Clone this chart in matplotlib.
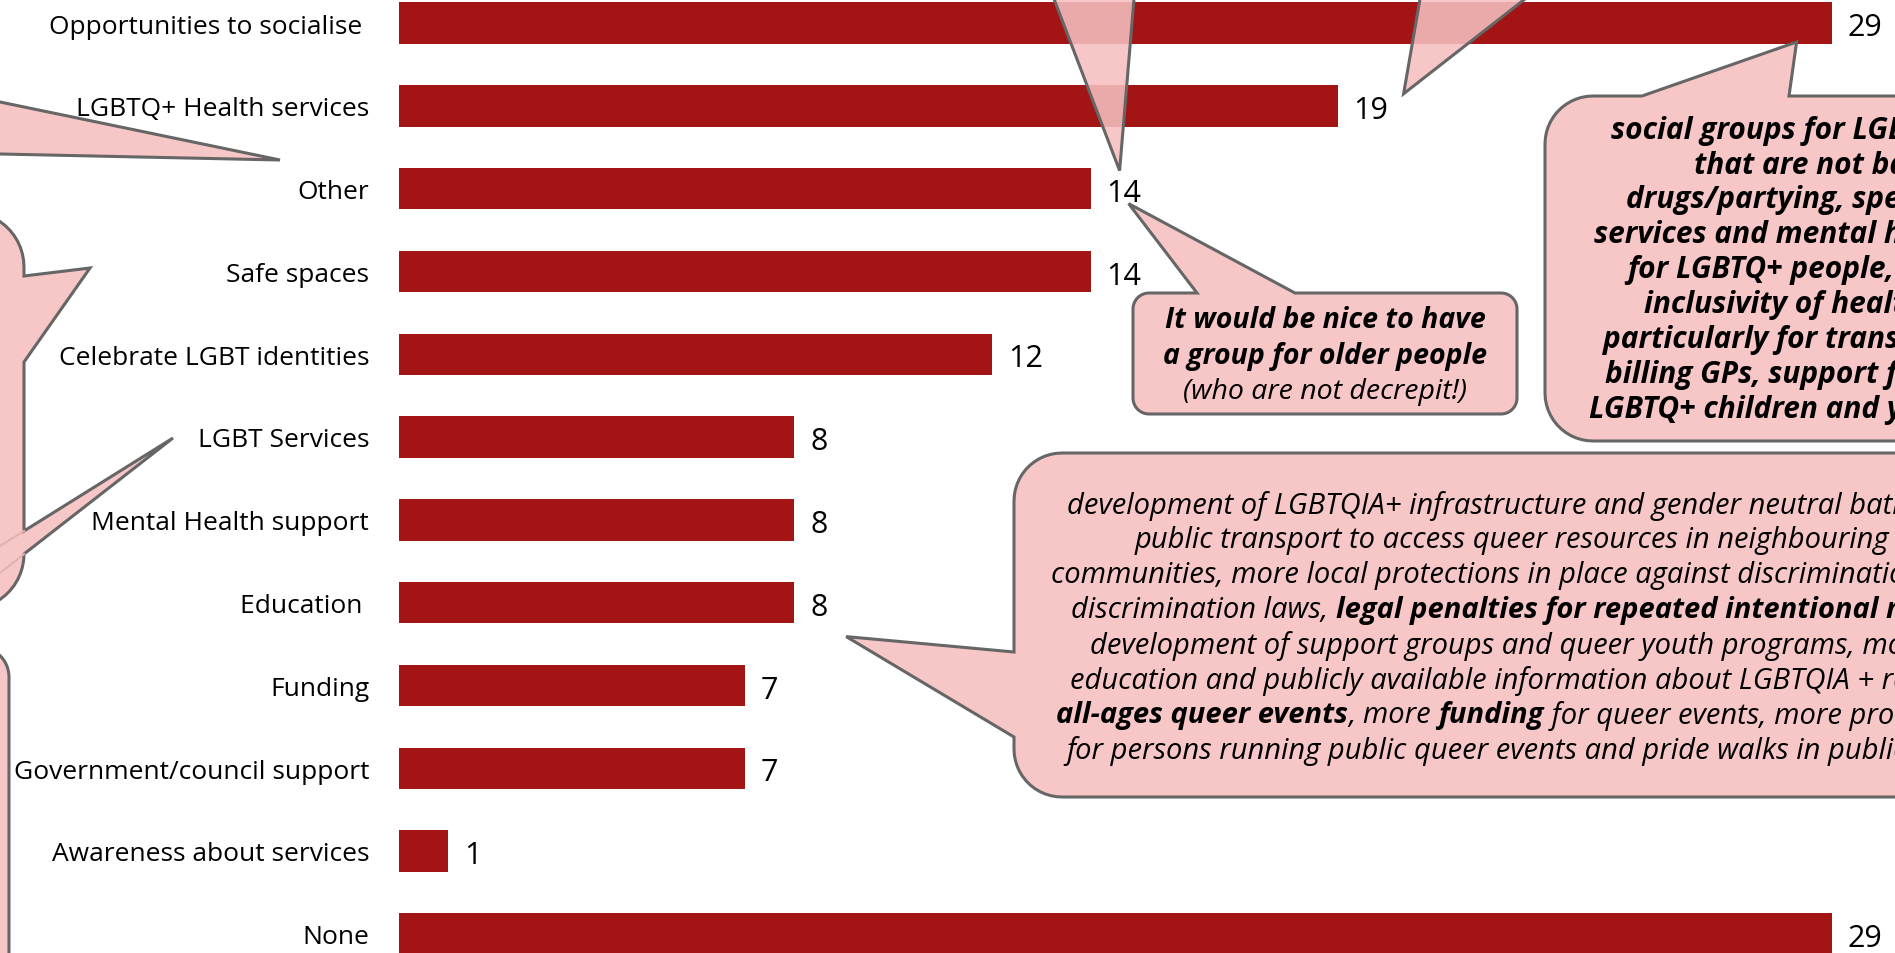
import matplotlib
matplotlib.use('Agg')
import matplotlib.pyplot as plt
from matplotlib.patches import Polygon
import numpy as np

# bar data
categories = ['Opportunities to socialise ', 'LGBTQ+ Health services', 'Other', 'Safe spaces',
              'Celebrate LGBT identities', 'LGBT Services', 'Mental Health support', 'Education ',
              'Funding', 'Government/council support', 'Awareness about services', 'None']
counts = [29, 19, 14, 14, 12, 8, 8, 8, 7, 7, 1, 29]

# quotes shown in the callouts
quote_older = [('It would be nice to have', 'bold'),
               ('a group for older people', 'bold'),
               ('(who are not decrepit!)', 'normal')]
quote_social = ['social groups for LGBTQ+ people',
                'that are not based around',
                'drugs/partying, specialised health',
                'services and mental health support',
                'for LGBTQ+ people, greater',
                'inclusivity of healthcare,',
                'particularly for trans people, bulk',
                'billing GPs, support for',
                'LGBTQ+ children and youth']
quote_infra = [[('development of LGBTQIA+ infrastructure and gender neutral bathrooms, better', 'normal')],
               [('public transport to access queer resources in neighbouring towns and', 'normal')],
               [('communities, more local protections in place against discrimination, anti-', 'normal')],
               [('discrimination laws, ', 'normal'), ('legal penalties for repeated intentional misgendering', 'bold')],
               [('development of support groups and queer youth programs, more', 'normal')],
               [('education and publicly available information about LGBTQIA + resources,', 'normal')],
               [('all-ages queer events', 'bold'), (', more ', 'normal'), ('funding', 'bold'),
                (' for queer events, more protections', 'normal')],
               [('for persons running public queer events and pride walks in public spaces', 'normal')]]

BAR = '#A31515'
PINK = (246/255, 192/255, 192/255, 0.88)
EDGE = '#666666'
FONT = 'Open Sans'

W, H = 1895, 954
fig = plt.figure(figsize=(W/100, H/100), dpi=100)

left = 399
ax = fig.add_axes([left/W, 0, 1 - left/W, 1])
ypos = np.arange(len(counts))
ax.barh(ypos, counts, height=0.5, color=BAR, zorder=2)
ax.set_xlim(0, (W - left)/49.4)
ax.set_ylim((H - 24)/82.8, -24/82.8)
ax.set_yticks(ypos)
ax.set_yticklabels(categories, fontsize=19, family=FONT)
ax.tick_params(axis='y', length=0, pad=21.5)
ax.set_xticks([])
for s in ax.spines.values():
    s.set_visible(False)

for i, v in enumerate(counts):
    ax.annotate(str(v), (v, i), xytext=(11.5, -3), textcoords='offset points',
                va='center', ha='left', fontsize=22, family=FONT)

# overlay in pixel coords (y down) for the callouts
ov = fig.add_axes([0, 0, 1, 1], zorder=5)
ov.set_xlim(0, W)
ov.set_ylim(H, 0)
ov.axis('off')
ov.patch.set_alpha(0)


def to_px(v, i, dx=0, dy=0):
    x, y = ax.transData.transform((v, i))
    return (x + dx, H - y + dy)


def arc(cx, cy, r, a0, a1, n=14):
    t = np.radians(np.linspace(a0, a1, n))
    return list(zip(cx + r*np.cos(t), cy + r*np.sin(t)))


def bubble(x0, y0, x1, y1, r, tails=()):
    # tails: (edge, a, b, apex)
    def on(edge):
        return [t for t in tails if t[0] == edge]
    pts = arc(x0 + r, y0 + r, r, 180, 270)
    for e, a, b, p in sorted(on('top'), key=lambda t: t[1]):
        pts += [(a, y0), p, (b, y0)]
    pts += arc(x1 - r, y0 + r, r, 270, 360)
    for e, a, b, p in sorted(on('right'), key=lambda t: t[1]):
        pts += [(x1, a), p, (x1, b)]
    pts += arc(x1 - r, y1 - r, r, 0, 90)
    for e, a, b, p in sorted(on('bottom'), key=lambda t: -t[1]):
        pts += [(b, y1), p, (a, y1)]
    pts += arc(x0 + r, y1 - r, r, 90, 180)
    for e, a, b, p in sorted(on('left'), key=lambda t: -t[1]):
        pts += [(x0, b), p, (x0, a)]
    ov.add_patch(Polygon(pts, closed=True, facecolor=PINK, edgecolor=EDGE,
                         lw=2.2, joinstyle='miter', zorder=5))


def cross(apex, p, x=None, y=None):
    # where the line apex->p meets x=const or y=const
    if x is not None:
        return apex[1] + (x - apex[0])/(p[0] - apex[0])*(p[1] - apex[1])
    return apex[0] + (y - apex[1])/(p[1] - apex[1])*(p[0] - apex[0])


# callouts hanging from above the crop
apex_g = to_px(14, 2, 29, -18)
bubble(900, -400, 1300, -40,
       20, [('bottom', cross(apex_g, (1054, 0), y=-40), cross(apex_g, (1134, 0), y=-40), apex_g)])
apex_h = to_px(19, 1, 66, -12)
bubble(1300, -400, 1800, -40,
       20, [('bottom', cross(apex_h, (1420, 0), y=-40), cross(apex_h, (1525, 0), y=-40), apex_h)])

# callouts from the left, outside the crop
apex_d = (280, 161)
bubble(-800, 0, -40, 400, 30,
       [('right', cross(apex_d, (0, 103), x=-40), cross(apex_d, (0, 155), x=-40), apex_d)])
bubble(-500, 213, 24, 610, 55,
       [('right', 277, 363, (90, 269)), ('right', 532, 555, (173, 439))])
for y_in, y_out in [(532, 547), (555, 574)]:
    ov.plot([24, 0], [y_in, y_out], color='#E2B2B2', lw=1.5, zorder=5.5)
bubble(-500, 648, 9, 1200, 30)

# older people callout
apex_a = to_px(14, 2, 38, 15)
bubble(1133, 294, 1517, 415, 16, [('top', 1197, 1295, apex_a)])
for (s, w), y in zip(quote_older, [321, 357, 392]):
    ov.text(1325, y, s, ha='center', va='center', fontsize=20.5, style='italic',
            weight=w, family=FONT, zorder=6)

# social groups callout
apex_b = to_px(29, 0, -35, 19)
bubble(1545, 97, 2300, 442, 48, [('top', 1642, 1789, apex_b)])
xs_b = [1611, 1694, 1626, 1594, 1627, 1644, 1603, 1605, 1589]
ys_b = [131, 166, 200, 235, 270, 305, 340, 375, 410]
for s, x, y in zip(quote_social, xs_b, ys_b):
    ov.text(x, y, s, ha='left', va='center', fontsize=21.5, style='italic',
            weight='bold', family=FONT, zorder=6)

# infrastructure callout
apex_c = to_px(8, 7, 52, 34)
bubble(1014, 454, 2400, 798, 48, [('left', 653, 738, apex_c)])
xs_c = [1067, 1135, 1051, 1071, 1090, 1070, 1056, 1066]
ys_c = [506, 541, 576, 611, 646, 681, 716, 751]
renderer = fig.canvas.get_renderer()
for pieces, x, y in zip(quote_infra, xs_c, ys_c):
    for s, w in pieces:
        t = ov.text(x, y, s, ha='left', va='center', fontsize=21, style='italic',
                    weight=w, family=FONT, zorder=6)
        x += t.get_window_extent(renderer).width

fig.savefig('out.png', dpi=100)
